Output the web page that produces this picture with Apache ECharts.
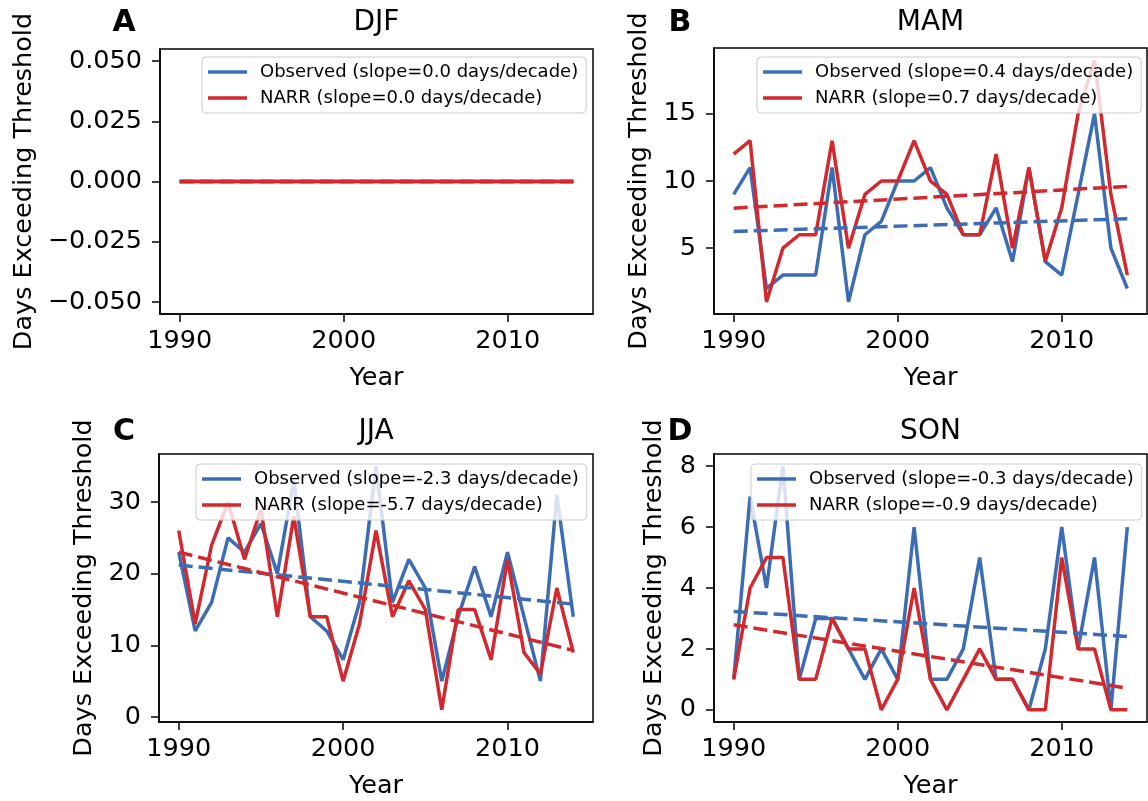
<!DOCTYPE html>
<html>
<head>
<meta charset="utf-8">
<script src="https://cdn.jsdelivr.net/npm/echarts@6/dist/echarts.min.js"></script>
<style>
  html, body { margin: 0; padding: 0; background: #fff; }
  #main { width: 1148px; height: 801px; }
</style>
</head>
<body>
<div id="main"></div>
<script>
// years on the x axis
var years = [1990, 1991, 1992, 1993, 1994, 1995, 1996, 1997, 1998, 1999, 2000, 2001, 2002,
             2003, 2004, 2005, 2006, 2007, 2008, 2009, 2010, 2011, 2012, 2013, 2014];
var trendYears = [1990, 2014];
var xTicks = [1990, 2000, 2010];

// DJF
var djfObs  = [0,0,0,0,0,0,0,0,0,0,0,0,0,0,0,0,0,0,0,0,0,0,0,0,0];
var djfNarr = [0,0,0,0,0,0,0,0,0,0,0,0,0,0,0,0,0,0,0,0,0,0,0,0,0];
var djfObsTrend = [0, 0];
var djfNarrTrend = [0, 0];
// MAM
var mamObs  = [9,11,2,3,3,3,11,1,6,7,10,10,11,8,6,6,8,4,11,4,3,9,15,5,2];
var mamNarr = [12,13,1,5,6,6,13,5,9,10,10,13,10,9,6,6,12,5,11,4,8,15,19,9,3];
var mamObsTrend = [6.24, 7.19];
var mamNarrTrend = [7.98, 9.6];
// JJA
var jjaObs  = [23,12,16,25,23,27,20,33,14,12,8,16,35,16,22,18,5,14,21,14,23,14,5,31,14];
var jjaNarr = [26,13,24,30,22,29,14,28,14,14,5,13,26,14,19,15,1,15,15,8,22,9,6,18,9];
var jjaObsTrend = [21.2, 15.75];
var jjaNarrTrend = [23.0, 9.3];
// SON
var sonObs  = [1,7,4,8,1,3,3,2,1,2,1,6,1,1,2,5,1,1,0,2,6,2,5,0,6];
var sonNarr = [1,4,5,5,1,1,3,2,2,0,1,4,1,0,1,2,1,1,0,0,5,2,2,0,0];
var sonObsTrend = [3.23, 2.41];
var sonNarrTrend = [2.79, 0.71];

// y tick labels per panel
var djfTicks = [-0.05, -0.025, 0, 0.025, 0.05];
var mamTicks = [5, 10, 15];
var jjaTicks = [0, 10, 20, 30];
var sonTicks = [0, 2, 4, 6, 8];

var seasons = ['DJF', 'MAM', 'JJA', 'SON'];
var letters = ['A', 'B', 'C', 'D'];
var obsNames = ['Observed (slope=0.0 days/decade)', 'Observed (slope=0.4 days/decade)',
                'Observed (slope=-2.3 days/decade)', 'Observed (slope=-0.3 days/decade)'];
var narrNames = ['NARR (slope=0.0 days/decade)', 'NARR (slope=0.7 days/decade)',
                 'NARR (slope=-5.7 days/decade)', 'NARR (slope=-0.9 days/decade)'];

var BLUE = '#3b6cb4';
var RED = '#d1292e';
var FONT = "'DejaVu Sans', sans-serif";
var LW = 3.5;
var FS = 25.5;

var panels = [
  { obs: djfObs, narr: djfNarr, obsT: djfObsTrend, narrT: djfNarrTrend, ticks: djfTicks,
    ymin: -0.055, ymax: 0.055, grid: [160, 49, 433, 265], legend: [202, 57], ylabX: 24,
    fmt: function (v) { return v.toFixed(3).replace('-', '\u2212'); } },
  { obs: mamObs, narr: mamNarr, obsT: mamObsTrend, narrT: mamNarrTrend, ticks: mamTicks,
    ymin: 0.1, ymax: 19.9, grid: [714, 48, 433, 266], legend: [757, 57], ylabX: 639 },
  { obs: jjaObs, narr: jjaNarr, obsT: jjaObsTrend, narrT: jjaNarrTrend, ticks: jjaTicks,
    ymin: -0.7, ymax: 36.7, grid: [159, 454, 434, 268], legend: [196, 464], ylabX: 84 },
  { obs: sonObs, narr: sonNarr, obsT: sonObsTrend, narrT: sonNarrTrend, ticks: sonTicks,
    ymin: -0.4, ymax: 8.4, grid: [714, 454, 433, 268], legend: [751, 464], ylabX: 654 }
];

function pairs(xs, ys) {
  return xs.map(function (x, i) { return [x, ys[i]]; });
}

var grids = [], xAxes = [], yAxes = [], series = [], legends = [], graphics = [];

panels.forEach(function (p, i) {
  var g = p.grid;
  grids.push({
    left: g[0], top: g[1], width: g[2], height: g[3],
    show: true, borderColor: '#000', borderWidth: 1.5, backgroundColor: 'transparent',
    outerBoundsMode: 'none'
  });
  xAxes.push({
    gridIndex: i, type: 'value', min: 1988.8, max: 2015.2,
    axisLine: { show: true, onZero: false, lineStyle: { color: '#000', width: 1.5 } },
    axisTick: { show: true, inside: false, length: 8, customValues: xTicks, lineStyle: { color: '#000', width: 1.5 } },
    axisLabel: { customValues: xTicks, color: '#000', fontSize: FS, fontFamily: FONT, margin: 14,
                 formatter: function (v) { return String(v); } },
    splitLine: { show: false }
  });
  yAxes.push({
    gridIndex: i, type: 'value', min: p.ymin, max: p.ymax,
    axisLine: { show: true, onZero: false, lineStyle: { color: '#000', width: 1.5 } },
    axisTick: { show: true, inside: false, length: 8, customValues: p.ticks, lineStyle: { color: '#000', width: 1.5 } },
    axisLabel: { customValues: p.ticks, color: '#000', fontSize: FS, fontFamily: FONT, margin: 18,
                 formatter: p.fmt || function (v) { return String(v); } },
    splitLine: { show: false }
  });
  var common = { type: 'line', xAxisIndex: i, yAxisIndex: i, symbol: 'none', silent: true, animation: false };
  series.push(Object.assign({}, common, {
    name: obsNames[i], data: pairs(years, p.obs), lineStyle: { color: BLUE, width: LW }, itemStyle: { color: BLUE }
  }));
  series.push(Object.assign({}, common, {
    name: narrNames[i], data: pairs(years, p.narr), lineStyle: { color: RED, width: LW }, itemStyle: { color: RED }
  }));
  series.push(Object.assign({}, common, {
    name: 'obs trend ' + seasons[i], data: pairs(trendYears, p.obsT),
    lineStyle: { color: BLUE, width: LW, type: [14, 6] }, itemStyle: { color: BLUE }
  }));
  series.push(Object.assign({}, common, {
    name: 'narr trend ' + seasons[i], data: pairs(trendYears, p.narrT),
    lineStyle: { color: RED, width: LW, type: [14, 6] }, itemStyle: { color: RED }
  }));
  legends.push({
    data: [obsNames[i], narrNames[i]],
    orient: 'vertical', left: p.legend[0], top: p.legend[1],
    icon: 'rect', itemWidth: 39, itemHeight: 3.5, itemGap: 8,
    padding: [6, 8, 6, 6],
    backgroundColor: 'rgba(255,255,255,0.8)', borderColor: '#cccccc', borderWidth: 1, borderRadius: 4,
    selectedMode: false,
    textStyle: { fontSize: 18, fontFamily: FONT, color: '#000', lineHeight: 18, padding: [0, 0, 0, 8] }
  });
  var cx = g[0] + g[2] / 2;
  var cy = g[1] + g[3] / 2;
  var titleY = i < 2 ? 23 : 432;
  graphics.push({ type: 'text', x: cx, y: titleY, silent: true,
    style: { text: seasons[i], fill: '#000', font: '28px ' + FONT, align: 'center', verticalAlign: 'middle',
             textAlign: 'center', textVerticalAlign: 'middle' } });
  graphics.push({ type: 'text', x: i % 2 === 0 ? 124 : 680, y: titleY, silent: true,
    style: { text: letters[i], fill: '#000', font: 'bold 30px ' + FONT, align: 'center', verticalAlign: 'middle',
             textAlign: 'center', textVerticalAlign: 'middle' } });
  graphics.push({ type: 'text', x: cx, y: g[1] + g[3] + 64, silent: true,
    style: { text: 'Year', fill: '#000', font: FS + 'px ' + FONT, align: 'center', verticalAlign: 'middle',
             textAlign: 'center', textVerticalAlign: 'middle' } });
  graphics.push({ type: 'text', x: p.ylabX, y: cy, rotation: Math.PI / 2, silent: true,
    style: { text: 'Days Exceeding Threshold', fill: '#000', font: FS + 'px ' + FONT, align: 'center', verticalAlign: 'middle',
             textAlign: 'center', textVerticalAlign: 'middle' } });
});

var chart = echarts.init(document.getElementById('main'), null, { renderer: 'canvas' });
chart.setOption({
  animation: false,
  backgroundColor: '#fff',
  grid: grids,
  xAxis: xAxes,
  yAxis: yAxes,
  legend: legends,
  series: series,
  graphic: graphics
});
</script>
</body>
</html>
